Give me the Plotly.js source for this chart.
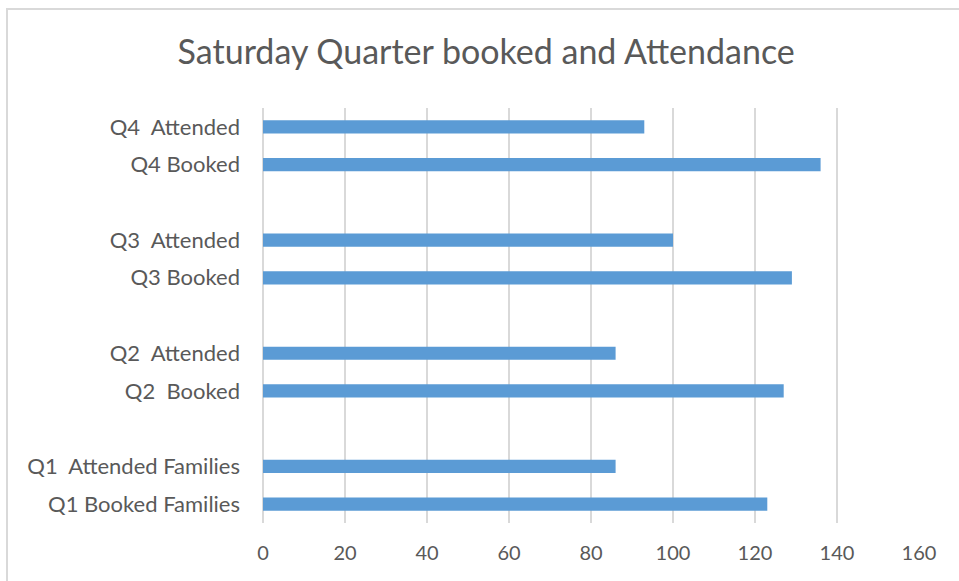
<!DOCTYPE html>
<html>
<head>
<meta charset="utf-8">
<script src="https://cdn.plot.ly/plotly-3.0.1.min.js"></script>
<style>
  body { margin: 0; background: #fff; }
  #plot { position: absolute; left: 0; top: 0; width: 959px; height: 581px; }
  #frame { position: absolute; left: 6px; top: 8px; width: 960px; height: 580px;
           border-left: 2px solid #d9d9d9; border-top: 2px solid #d9d9d9; pointer-events: none; }
</style>
</head>
<body>
<div id="plot"></div>
<div id="frame"></div>
<script>
// bars, bottom to top
var labels = ['Q1 Booked Families', 'Q1\u00a0 Attended Families',
              'Q2\u00a0 Booked', 'Q2\u00a0 Attended',
              'Q3 Booked', 'Q3\u00a0 Attended',
              'Q4 Booked', 'Q4\u00a0 Attended'];
var values = [123, 86, 127, 86, 129, 100, 136, 93];

// category order with empty slots between quarters
var categoryOrder = ['Q1 Booked Families', 'Q1\u00a0 Attended Families', ' ',
                     'Q2\u00a0 Booked', 'Q2\u00a0 Attended', '  ',
                     'Q3 Booked', 'Q3\u00a0 Attended', '   ',
                     'Q4 Booked', 'Q4\u00a0 Attended'];

var xTicks = [0, 20, 40, 60, 80, 100, 120, 140, 160];

function makePlot() {
  var trace1 = {
    x: values,
    y: labels,
    type: 'bar',
    orientation: 'h',
    marker: { color: '#5b9bd5' },
    hoverinfo: 'x+y'
  };

  var layout = {
    width: 959,
    height: 581,
    paper_bgcolor: '#ffffff',
    plot_bgcolor: '#ffffff',
    font: { family: 'Lato, sans-serif', color: '#595959', size: 20 },
    title: {
      text: 'Saturday Quarter booked and Attendance',
      font: { family: 'Lato, sans-serif', size: 34, color: '#595959' },
      x: 0.507,
      xref: 'container',
      xanchor: 'center',
      y: 0.91,
      yref: 'container',
      yanchor: 'middle'
    },
    bargap: 0.65,
    showlegend: false,
    xaxis: {
      range: [0, 160],
      tickvals: xTicks,
      tickfont: { size: 20 },
      showgrid: true,
      gridcolor: '#d9d9d9',
      gridwidth: 1.5,
      zeroline: true,
      zerolinecolor: '#d9d9d9',
      zerolinewidth: 1.5,
      showline: false,
      ticks: '',
      ticklabelstandoff: 16,
      fixedrange: true
    },
    yaxis: {
      type: 'category',
      categoryorder: 'array',
      categoryarray: categoryOrder,
      range: [-0.5, categoryOrder.length - 0.5],
      tickfont: { size: 22 },
      showgrid: false,
      zeroline: false,
      showline: false,
      ticks: '',
      ticklabelstandoff: 22,
      fixedrange: true
    },
    margin: { l: 263, r: 40, t: 108, b: 58, pad: 0 }
  };

  Plotly.newPlot('plot', [trace1], layout, { displayModeBar: false, staticPlot: true });
}

makePlot();
</script>
</body>
</html>
